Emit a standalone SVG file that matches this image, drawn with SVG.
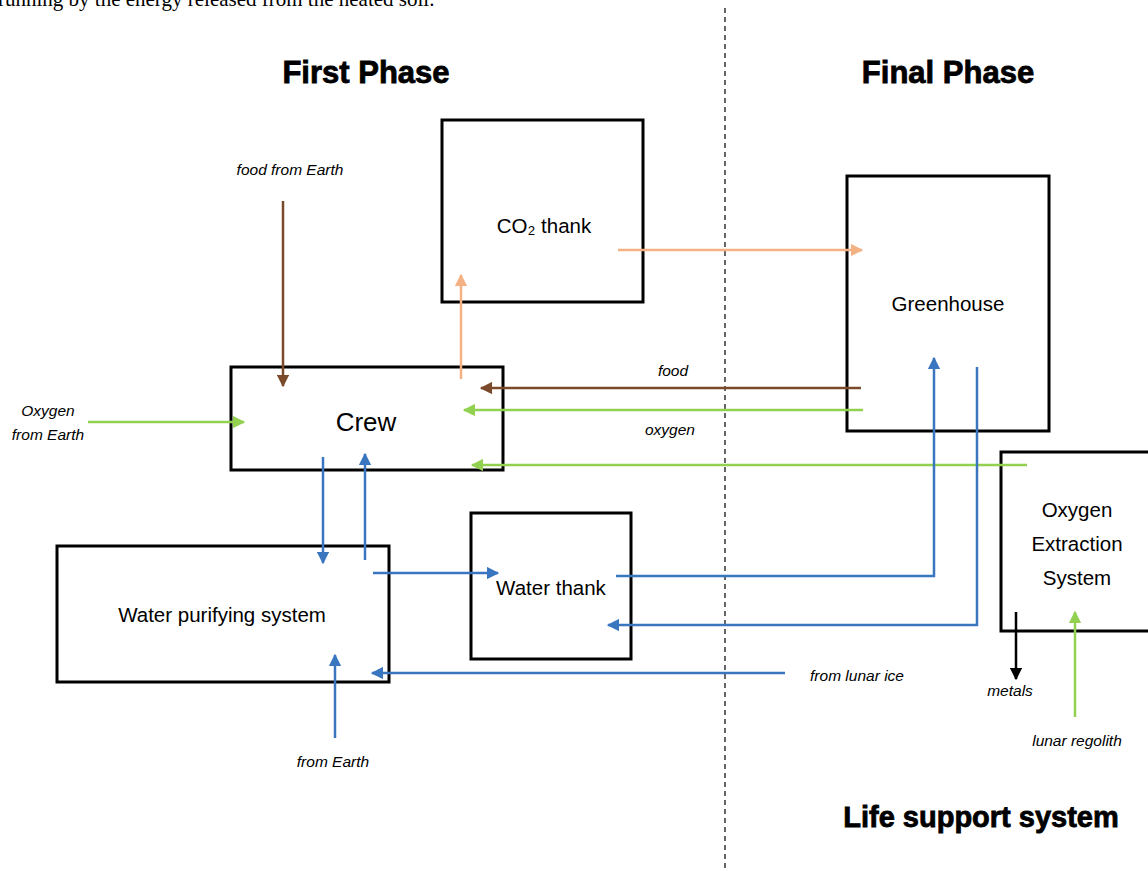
<svg xmlns="http://www.w3.org/2000/svg" width="1148" height="871" viewBox="0 0 1148 871">
<defs>
<style>
.box{fill:#fff;stroke:#000;stroke-width:3}
.lbl{font-family:"Liberation Sans",Arial,sans-serif;font-size:20.5px;fill:#000;text-anchor:middle}
.it{font-family:"Liberation Sans",Arial,sans-serif;font-size:15.5px;font-style:italic;fill:#000;text-anchor:middle}
.title{font-family:"Liberation Sans",Arial,sans-serif;font-weight:bold;font-size:31px;fill:#000;text-anchor:middle;stroke:#000;stroke-width:0.8}
.c{fill:none;stroke-width:2.5}
.blue{stroke:#3a76c0}
.green{stroke:#92d050}
.brown{stroke:#7b4a2b}
.orange{stroke:#f4b183}
.black{stroke:#000}
</style>
<marker id="ab" viewBox="0 0 10 10" refX="9" refY="5" markerWidth="5" markerHeight="5" orient="auto"><path d="M0,0 L10,5 L0,10 z" fill="#3a76c0"/></marker>
<marker id="ag" viewBox="0 0 10 10" refX="9" refY="5" markerWidth="5" markerHeight="5" orient="auto"><path d="M0,0 L10,5 L0,10 z" fill="#92d050"/></marker>
<marker id="abr" viewBox="0 0 10 10" refX="9" refY="5" markerWidth="5" markerHeight="5" orient="auto"><path d="M0,0 L10,5 L0,10 z" fill="#7b4a2b"/></marker>
<marker id="ao" viewBox="0 0 10 10" refX="9" refY="5" markerWidth="5" markerHeight="5" orient="auto"><path d="M0,0 L10,5 L0,10 z" fill="#f4b183"/></marker>
<marker id="ak" viewBox="0 0 10 10" refX="9" refY="5" markerWidth="5" markerHeight="5" orient="auto"><path d="M0,0 L10,5 L0,10 z" fill="#000"/></marker>
</defs>
<rect width="1148" height="871" fill="#fff"/>
<text x="-2" y="6" font-family="Liberation Serif,serif" font-size="21">running by the energy released from the heated soil.</text>
<line x1="725" y1="8" x2="725" y2="871" stroke="#000" stroke-width="1.2" stroke-dasharray="5,4"/>
<text class="title" x="366" y="83">First Phase</text>
<text class="title" x="948" y="83">Final Phase</text>
<text class="title" x="981" y="827" style="font-size:29px">Life support system</text>

<g id="co2">
<rect class="box" x="442" y="120" width="201" height="182"/>
<text class="lbl" x="544" y="233">CO₂ thank</text>
</g>
<g id="greenhouse">
<rect class="box" x="847" y="176" width="202" height="255"/>
<text class="lbl" x="948" y="311">Greenhouse</text>
</g>
<g id="crew">
<rect class="box" x="231" y="367" width="272" height="103"/>
<text class="lbl" x="366" y="431" style="font-size:26px">Crew</text>
</g>
<g id="wps">
<rect class="box" x="57" y="546" width="332" height="136"/>
<text class="lbl" x="222" y="622">Water purifying system</text>
</g>
<g id="watertank">
<rect class="box" x="471" y="513" width="160" height="146"/>
<text class="lbl" x="551" y="595">Water thank</text>
</g>
<g id="oes">
<rect class="box" x="1001" y="452" width="160" height="179"/>
<text class="lbl" x="1077" y="517">Oxygen</text>
<text class="lbl" x="1077" y="551">Extraction</text>
<text class="lbl" x="1077" y="585">System</text>
</g>

<g id="connectors">
<path class="c brown" d="M283,201 V386" marker-end="url(#abr)"/>
<path class="c orange" d="M461,379 V275" marker-end="url(#ao)"/>
<path class="c orange" d="M618,250 H862" marker-end="url(#ao)"/>
<path class="c brown" d="M861,388 H481" marker-end="url(#abr)"/>
<path class="c green" d="M863,410 H464" marker-end="url(#ag)"/>
<path class="c green" d="M1027,465 H472" marker-end="url(#ag)"/>
<path class="c green" d="M88,422 H244" marker-end="url(#ag)"/>
<path class="c blue" d="M323,457 V563" marker-end="url(#ab)"/>
<path class="c blue" d="M365,560 V454" marker-end="url(#ab)"/>
<path class="c blue" d="M373,573 H498" marker-end="url(#ab)"/>
<path class="c blue" d="M616,576 H934 V358" marker-end="url(#ab)"/>
<path class="c blue" d="M977,367 V625 H608" marker-end="url(#ab)"/>
<path class="c blue" d="M785,673 H372" marker-end="url(#ab)"/>
<path class="c blue" d="M335,738 V655" marker-end="url(#ab)"/>
<path class="c black" d="M1016,612 V679" stroke-width="2" marker-end="url(#ak)"/>
<path class="c green" d="M1075,717 V612" marker-end="url(#ag)"/>
</g>

<text class="it" x="290" y="175">food from Earth</text>
<text class="it" x="673" y="376">food</text>
<text class="it" x="670" y="435">oxygen</text>
<text class="it" x="48" y="416">Oxygen</text>
<text class="it" x="48" y="440">from Earth</text>
<text class="it" x="857" y="681">from lunar ice</text>
<text class="it" x="333" y="767">from Earth</text>
<text class="it" x="1010" y="696">metals</text>
<text class="it" x="1077" y="746">lunar regolith</text>
</svg>
